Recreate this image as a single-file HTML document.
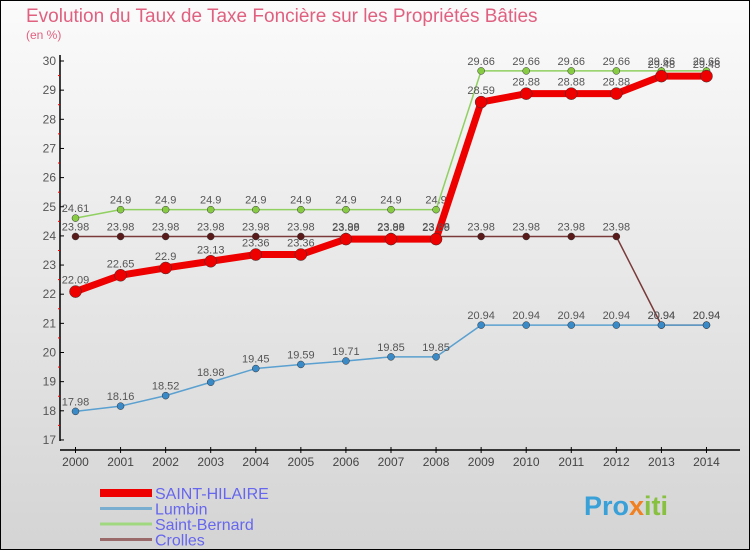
<!DOCTYPE html>
<html><head><meta charset="utf-8"><style>
body{margin:0;width:750px;height:550px;overflow:hidden;font-family:"Liberation Sans",sans-serif}
</style></head><body>
<svg width="750" height="550" xmlns="http://www.w3.org/2000/svg">
<defs><linearGradient id="bg" x1="0" y1="0" x2="0" y2="1"><stop offset="0" stop-color="#fbfbfb"/><stop offset="1" stop-color="#d4d4d4"/></linearGradient></defs>
<rect x="0.5" y="0.5" width="749" height="549" fill="url(#bg)" stroke="#000"/>
<text x="26" y="22" font-size="19" fill="#e06080">Evolution du Taux de Taxe Foncière sur les Propriétés Bâties</text>
<text x="26" y="39" font-size="12" fill="#e06080">(en %)</text>
<g id="axes"></g><g id="series"></g><g id="legend"></g>
<text x="584" y="515" font-size="27" font-weight="bold" fill="#3aa0d8">Pro<tspan fill="#f08020">x</tspan><tspan fill="#88c040">iti</tspan></text>
</svg>
<script>
const years=[2000,2001,2002,2003,2004,2005,2006,2007,2008,2009,2010,2011,2012,2013,2014];
const yTicks=[17,18,19,20,21,22,23,24,25,26,27,28,29,30];
const saintHilaire=[22.09,22.65,22.9,23.13,23.36,23.36,23.89,23.89,23.89,28.59,28.88,28.88,28.88,29.48,29.48];
const lumbin=[17.98,18.16,18.52,18.98,19.45,19.59,19.71,19.85,19.85,20.94,20.94,20.94,20.94,20.94,20.94];
const saintBernard=[24.61,24.9,24.9,24.9,24.9,24.9,24.9,24.9,24.9,29.66,29.66,29.66,29.66,29.66,29.66];
const crolles=[23.98,23.98,23.98,23.98,23.98,23.98,23.98,23.98,23.98,23.98,23.98,23.98,23.98,20.94,20.94];
const NS="http://www.w3.org/2000/svg";
const x=i=>75.5+i*45.07;
const y=v=>61+(30-v)*29.15;
function mk(tag,attrs,parent,txt){const e=document.createElementNS(NS,tag);for(const k in attrs)e.setAttribute(k,attrs[k]);if(txt!==undefined)e.textContent=txt;parent.appendChild(e);return e;}
const ax=document.getElementById('axes');
let e=mk('line',{x1:60,y1:55,x2:60,y2:441,stroke:'#000','stroke-width':1.5},ax);

e=mk('line',{x1:60,y1:450,x2:740,y2:450,stroke:'#000','stroke-width':1.5},ax);

yTicks.forEach(v=>{
 mk('line',{x1:60,y1:y(v),x2:64,y2:y(v),stroke:'#000'},ax);
 if(v<30)mk('line',{x1:58,y1:y(v+0.5),x2:60,y2:y(v+0.5),stroke:'#f00'},ax);
 const t=mk('text',{x:56,y:y(v)+4,'font-size':12,fill:'#555','text-anchor':'end'},ax,v);
 
});
years.forEach((yr,i)=>{
 mk('line',{x1:x(i),y1:447,x2:x(i),y2:453,stroke:'#000'},ax);
 const t=mk('text',{x:x(i),y:466,'font-size':12,fill:'#444','text-anchor':'middle'},ax,yr);
 
});
const sg=document.getElementById('series');
function series(name,vals,color,w,r,dot,labOff){
 const g=mk('g',{},sg);
 
 const p=mk('polyline',{points:vals.map((v,i)=>x(i)+','+y(v)).join(' '),fill:'none',stroke:color,'stroke-width':w,'stroke-linejoin':'round'},g);
 
 vals.forEach((v,i)=>{
  const c=mk('circle',{cx:x(i),cy:y(v),r:r,fill:dot,stroke:'#333','stroke-width':0.5},g);
  
  const t=mk('text',{x:x(i),y:y(v)+labOff,'font-size':11,fill:'#555','text-anchor':'middle'},g,v);
  
 });
}
series('saint-bernard',saintBernard,'#90d060',1.5,3.5,'#88cc44',-6);
series('crolles',crolles,'#7a3a3a',1.5,3.5,'#5a1a1a',-6);
series('lumbin',lumbin,'#5aa0d0',1.5,3.5,'#3a8ac8',-6);
series('saint-hilaire',saintHilaire,'#ee0000',7,6,'#ee0000',-8);
const lg=document.getElementById('legend');
const names=['SAINT-HILAIRE','Lumbin','Saint-Bernard','Crolles'];
const cols=['#ee0000','#7aaed0','#a0d880','#9a6a6a'];
const ws=[8,3,3,3];
names.forEach((n,i)=>{
 const yy=493+i*15.5;
 const l=mk('line',{x1:100,y1:yy,x2:152,y2:yy,stroke:cols[i],'stroke-width':ws[i]},lg);
 
 const t=mk('text',{x:155,y:yy+6,'font-size':16,fill:'#6666ee'},lg,n);
 
});
</script>
</body></html>
